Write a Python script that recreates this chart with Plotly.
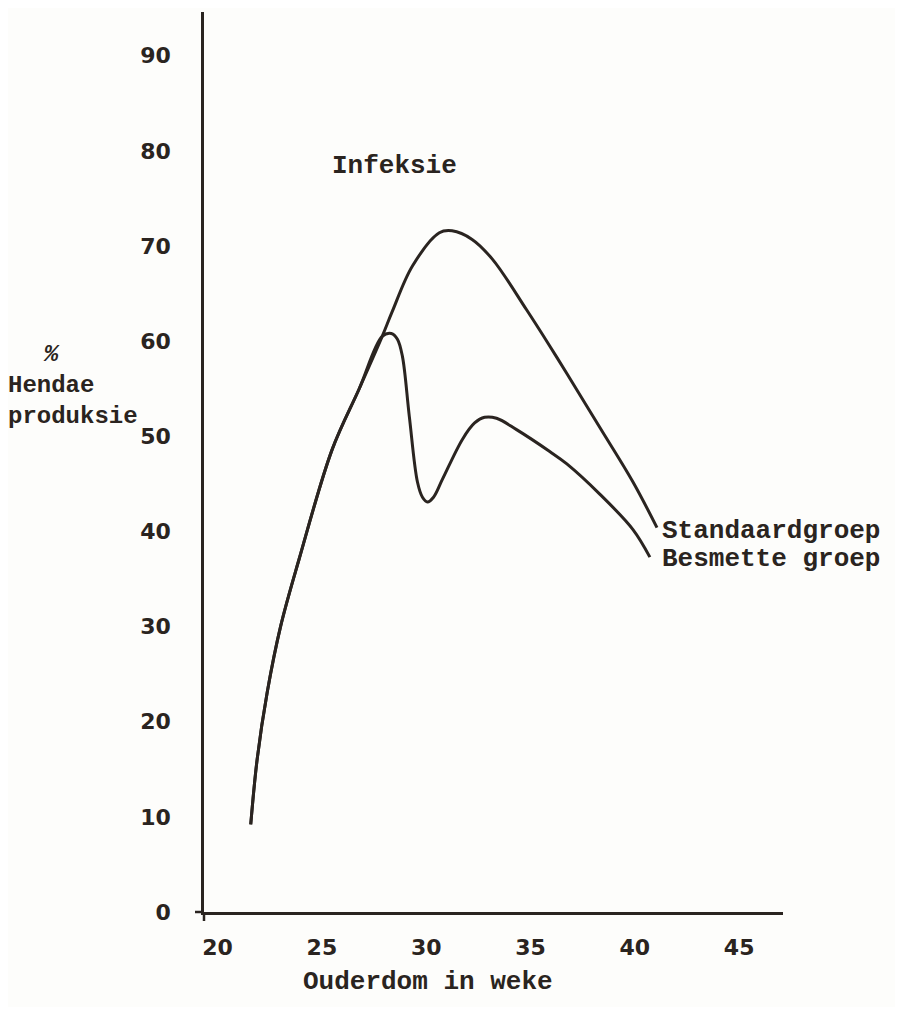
import plotly.graph_objects as go

# Data (age in weeks, % hen-day production)
weeks_std = [21.59, 21.90, 22.38, 23.03, 23.91, 25.49, 26.79, 27.89, 28.37, 29.34,
             30.63, 31.24, 32.2, 33.18, 34.81, 35.92, 36.74, 38.33, 39.91, 41.06]
prod_std = [9.2, 16.1, 23.1, 30.1, 37.1, 48.6, 55.0, 60.5, 63.1, 67.9,
            71.4, 71.6, 70.7, 68.6, 63.3, 59.5, 56.6, 50.9, 45.2, 40.4]

weeks_inf = [21.59, 21.90, 22.38, 23.03, 23.91, 25.49, 26.79, 27.89, 28.33, 28.62,
             28.86, 29.19, 29.58, 29.82, 30.06, 30.35, 30.78, 31.74, 32.32, 32.8,
             33.37, 34.33, 35.92, 36.74, 38.33, 39.91, 40.72]
prod_inf = [9.2, 16.1, 23.1, 30.1, 37.1, 48.6, 55.0, 60.5, 60.8, 60.2,
            58.4, 52.1, 45.2, 43.6, 43.1, 43.6, 45.5, 49.7, 51.4, 52.0,
            51.9, 50.7, 48.4, 47.1, 43.9, 40.2, 37.3]

x_ticks = [20, 25, 30, 35, 40, 45]
y_ticks = [0, 10, 20, 30, 40, 50, 60, 70, 80, 90]

series_names = ["Standaardgroep", "Besmette groep"]
note_text = "Infeksie"
x_title = "Ouderdom in weke"
y_title_lines = ["%", "Hendae", "produksie"]

INK = "#2a2420"
BG = "#fdfdfb"
TYPE_FONT = dict(family="Liberation Mono", size=26, color=INK)
YT_FONT = dict(family="Liberation Mono", size=24, color=INK)
NUM_FONT = dict(family="DejaVu Sans", size=22, color=INK, weight="bold")

fig = go.Figure()
fig.add_trace(go.Scatter(x=weeks_std, y=prod_std, mode="lines", name=series_names[0],
                         line=dict(color=INK, width=3, shape="spline", smoothing=1.0)))
fig.add_trace(go.Scatter(x=weeks_inf, y=prod_inf, mode="lines", name=series_names[1],
                         line=dict(color=INK, width=3, shape="spline", smoothing=1.0)))

# page has an 8px body offset
OFF = 8
W, H = 887, 999
ml, mt = 196, 4
right_edge, bottom_edge = 775, 904
mr, mb = W - right_edge, H - bottom_edge
pw, ph = right_edge - ml, bottom_edge - mt


def px_x(p):
    return (p - OFF - ml) / pw


def px_y(p):
    return (bottom_edge - (p - OFF)) / ph


def note(text, x, y, xref="x", yref="y", xanchor="center", italic=False,
         align="center", font=TYPE_FONT):
    t = "<b>" + ("<i>" + text + "</i>" if italic else text) + "</b>"
    return dict(text=t, x=x, y=y, xref=xref, yref=yref, xanchor=xanchor,
                yanchor="middle", align=align, showarrow=False, font=font)


annotations = [
    note(note_text, 28.47, 78.4),
    note(series_names[0], 41.2, 40.0, xanchor="left"),
    note(series_names[1], 41.2, 37.1, xanchor="left"),
    note(x_title, px_x(428), px_y(982), "paper", "paper"),
    note(y_title_lines[0], px_x(52), px_y(354), "paper", "paper", italic=True, font=YT_FONT),
    note(y_title_lines[1] + "<br>" + y_title_lines[2], px_x(6), px_y(401), "paper", "paper",
         xanchor="left", align="left", font=YT_FONT),
]

shapes = [
    dict(type="line", xref="paper", yref="paper", x0=px_x(195), x1=0, y0=0, y1=0,
         line=dict(color=INK, width=2.5)),
    dict(type="line", xref="paper", yref="paper", x0=0, x1=0, y0=px_y(921), y1=0,
         line=dict(color=INK, width=2.5)),
]

fig.update_layout(
    width=W, height=H,
    margin=dict(l=ml, r=mr, t=mt, b=mb),
    paper_bgcolor=BG, plot_bgcolor=BG,
    showlegend=False,
    annotations=annotations,
    shapes=shapes,
    xaxis=dict(range=[19.35, 47.1], tickvals=x_ticks, showgrid=False, zeroline=False,
               showline=True, linecolor=INK, linewidth=2.5, ticks="",
               ticklabelstandoff=14, tickfont=NUM_FONT),
    yaxis=dict(range=[0, 94.6], tickvals=y_ticks, showgrid=False, zeroline=False,
               showline=True, linecolor=INK, linewidth=2.5, ticks="",
               ticklabelstandoff=26, tickfont=NUM_FONT),
)

fig.write_html("out.html")
